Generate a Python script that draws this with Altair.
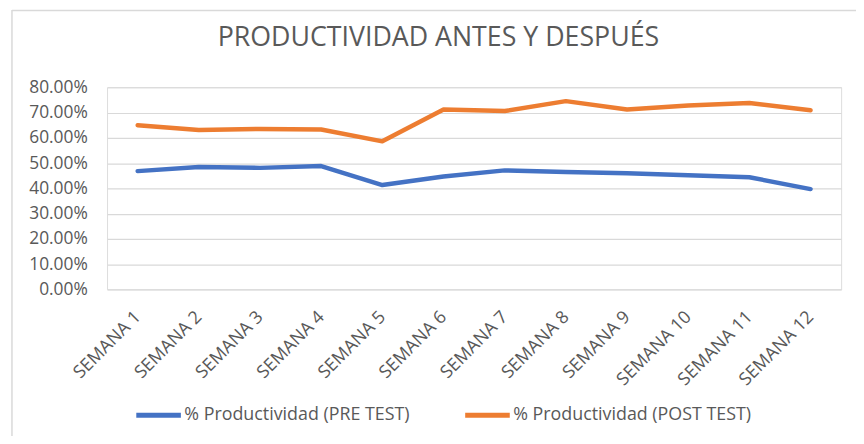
import altair as alt
import pandas as pd

semanas = [f"SEMANA {i}" for i in range(1, 13)]
pre_test = [0.468, 0.484, 0.481, 0.488, 0.413, 0.447, 0.471, 0.465, 0.460, 0.452, 0.444, 0.397]
post_test = [0.650, 0.631, 0.635, 0.633, 0.586, 0.712, 0.706, 0.745, 0.712, 0.728, 0.738, 0.709]
series = ["% Productividad (PRE TEST)", "% Productividad (POST TEST)"]
y_ticks = [0, 0.1, 0.2, 0.3, 0.4, 0.5, 0.6, 0.7, 0.8]

rows = []
for s, vals in zip(series, [pre_test, post_test]):
    for w, v in zip(semanas, vals):
        rows.append({"Semana": w, "Serie": s, "Valor": v})
df = pd.DataFrame(rows)

FONT = "Open Sans"
GRAY = "#595959"

lines = alt.Chart(df).mark_line(strokeWidth=4.5, strokeCap="round", strokeJoin="round").encode(
    x=alt.X("Semana:N", sort=semanas, scale=alt.Scale(type="point", padding=0.5),
            axis=alt.Axis(title=None, labelAngle=-45, labelAlign="right", labelBaseline="middle",
                          labelFontSize=18, labelColor=GRAY, labelFont=FONT, ticks=False,
                          domain=False, labelPadding=25, grid=False)),
    y=alt.Y("Valor:Q", scale=alt.Scale(domain=[0, 0.8], nice=False),
            axis=alt.Axis(title=None, format=".2%", values=y_ticks, labelFontSize=17.5,
                          labelColor=GRAY, labelFont=FONT, ticks=False, domain=False,
                          labelPadding=20, grid=True, gridColor="#d9d9d9", gridWidth=1.2)),
    color=alt.Color("Serie:N", sort=series,
                    scale=alt.Scale(domain=series, range=["#4472C4", "#ED7D31"]),
                    legend=alt.Legend(title=None, orient="none", direction="horizontal",
                                      legendX=27, legendY=306, symbolType="stroke",
                                      symbolSize=2025, symbolStrokeWidth=5,
                                      labelFontSize=18, labelColor=GRAY, labelFont=FONT,
                                      labelLimit=0, labelOffset=1, columnPadding=45)),
)

border_data = alt.Data(values=[{}])
top_border = alt.Chart(border_data).mark_rule(color="#d9d9d9", strokeWidth=1.5).encode(
    x=alt.value(-96), x2=alt.value(760), y=alt.value(-77.5))
left_border = alt.Chart(border_data).mark_rule(color="#d9d9d9", strokeWidth=1.5).encode(
    x=alt.value(-96), y=alt.value(-78), y2=alt.value(360))

chart = alt.layer(top_border, left_border, lines).properties(
    width=741, height=204,
    title=alt.TitleParams("PRODUCTIVIDAD ANTES Y DESPUÉS", fontSize=27, font=FONT,
                          fontWeight="normal", color=GRAY, anchor="middle", dx=-36, offset=-43),
    padding={"left": 100, "top": 78, "right": 15, "bottom": 146},
    autosize=alt.AutoSizeParams(type="none"),
).configure_view(stroke=None).configure(background="white")

chart.save("out.html", embed_options={"renderer": "svg", "actions": False})
